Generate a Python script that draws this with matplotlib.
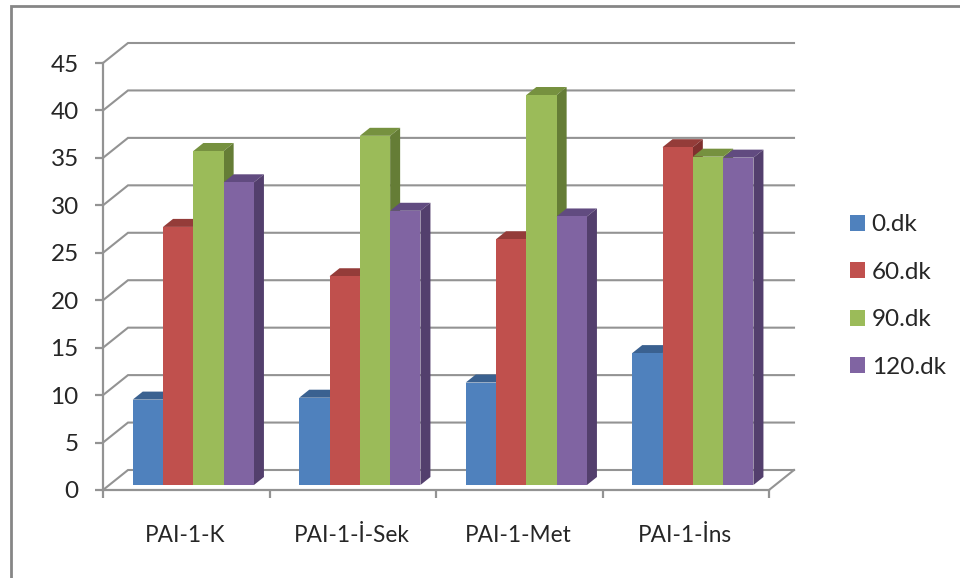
#! /usr/bin/env python3
# -*- coding: utf-8 -*-

'''
Clustered bars with a pseudo 3D look, PAI-1 levels over time
'''

import matplotlib
matplotlib.use('Agg')
import matplotlib.pyplot as plt
from matplotlib.lines import Line2D
from matplotlib.patches import Patch
import numpy as np

categories = ['PAI-1-K', 'PAI-1-İ-Sek', 'PAI-1-Met', 'PAI-1-İns']
series_names = ['0.dk', '60.dk', '90.dk', '120.dk']
values_0 = [9.0, 9.2, 10.8, 13.9]
values_60 = [27.2, 22.0, 25.9, 35.6]
values_90 = [35.2, 36.8, 41.1, 34.6]
values_120 = [31.9, 28.9, 28.3, 34.5]
yticks = [0, 5, 10, 15, 20, 25, 30, 35, 40, 45]

front_colors = ['#4f81bd', '#c0504d', '#9bbb59', '#8064a2']
top_colors = ['#3a6190', '#943c39', '#76913f', '#614b80']
side_colors = ['#345680', '#7f302e', '#657d36', '#533f6d']
line_color = '#939393'
text_color = '#262626'

W, H = 960, 578
DEPTH_X = 25 / 166.5   # shift of the back wall, in category units
DEPTH_Y = 20 / 9.49    # shift of the back wall, in value units
BAR_W = 0.182
BAR_Z0, BAR_Z1 = 0.25, 0.65


def project(x, y, z):
    '''Move a point from the front plane to depth z (0 front, 1 back wall)'''
    return x + z * DEPTH_X, y + z * DEPTH_Y


def draw_walls(ax):
    '''Gridlines on the back wall, and the slanted left wall and floor edges'''
    for tick in yticks:
        xb, yb = project(0, tick, 1)
        ax.plot([0, xb, 4 + DEPTH_X], [tick, yb, yb], color=line_color,
                lw=1.5, clip_on=False, zorder=1, solid_joinstyle='miter')
    xb, yb = project(4, 0, 1)
    ax.plot([4, xb], [0, yb], color=line_color, lw=1.5, clip_on=False, zorder=1)


def draw_bars(ax, series):
    '''Front faces come from ax.bar, top and side faces are added on them'''
    for i, vals in enumerate(series):
        xs = np.arange(len(categories)) + 0.141 + i * BAR_W
        base = project(0, 0, BAR_Z0)[1]
        shift = project(0, 0, BAR_Z0)[0]
        z = 3 + i
        for x, v in zip(xs, vals):
            left = x + shift
            right = left + BAR_W
            dx = (BAR_Z1 - BAR_Z0) * DEPTH_X
            dy = (BAR_Z1 - BAR_Z0) * DEPTH_Y
            ax.fill([left, right, right + dx, left + dx],
                    [base + v, base + v, base + v + dy, base + v + dy],
                    color=top_colors[i], lw=0, clip_on=False, zorder=z)
            ax.fill([right, right + dx, right + dx, right],
                    [base, base + dy, base + v + dy, base + v],
                    color=side_colors[i], lw=0, clip_on=False, zorder=z)
        ax.bar(xs + shift, vals, BAR_W, bottom=base, align='edge',
               color=front_colors[i], lw=0, clip_on=False, zorder=z + 0.5)


def main():
    plt.rcParams['font.family'] = ['Lato', 'DejaVu Sans']

    fig = plt.figure(figsize=(W / 100, H / 100), dpi=100, facecolor='white')
    ax = fig.add_axes([103 / W, (H - 490) / H, 666 / W, 427 / H])
    ax.patch.set_visible(False)
    ax.set_xlim(0, 4)
    ax.set_ylim(0, 45)

    draw_walls(ax)
    draw_bars(ax, [values_0, values_60, values_90, values_120])

    # axes
    for side in ['top', 'right']:
        ax.spines[side].set_visible(False)
    for side in ['left', 'bottom']:
        ax.spines[side].set_color(line_color)
        ax.spines[side].set_linewidth(1.6)
    ax.set_yticks(yticks)
    ax.set_xticks(range(5))
    ax.set_xticklabels([])
    ax.set_xticks(np.arange(4) + 0.496, categories, minor=True)
    ax.tick_params(axis='both', which='major', length=6, width=1.6,
                   color=line_color, labelcolor=text_color)
    ax.tick_params(axis='y', labelsize=17.5, pad=11.5)
    ax.tick_params(axis='x', which='minor', length=0, pad=25,
                   labelsize=16.3, labelcolor=text_color)

    # outer frame, only its top and left edges are in view
    fig.add_artist(Line2D([10.5 / W, 10.5 / W, 1], [0, (H - 6) / H, (H - 6) / H],
                          color='#868686', lw=2, solid_joinstyle='miter'))

    handles = [Patch(color=c, lw=0) for c in front_colors]
    fig.legend(handles, series_names, loc='center left',
               bbox_to_anchor=(828 / W, (H - 296) / H), frameon=False,
               fontsize=17.5, labelcolor=text_color, handlelength=0.62,
               handleheight=0.62, handletextpad=0.28, labelspacing=1.09)

    fig.savefig('out.png', dpi=100)


if __name__ == '__main__':
    main()
